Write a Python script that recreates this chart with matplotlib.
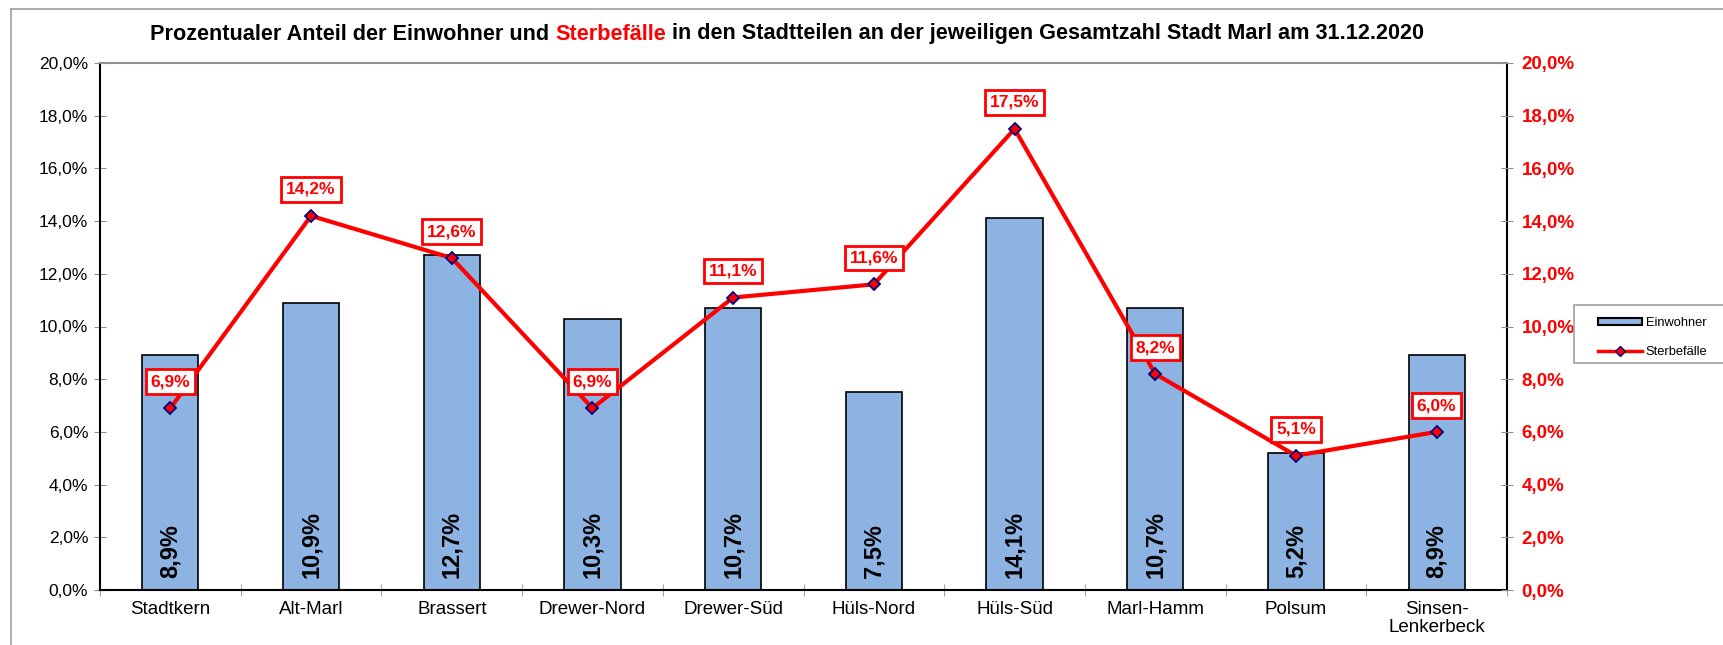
import matplotlib
matplotlib.use("Agg")
import matplotlib.pyplot as plt
from matplotlib.lines import Line2D
from matplotlib.patches import Patch, Rectangle
import numpy as np

plt.rcParams['font.family'] = ['Liberation Sans', 'DejaVu Sans']

categories = ["Stadtkern", "Alt-Marl", "Brassert", "Drewer-Nord", "Drewer-Süd",
              "Hüls-Nord", "Hüls-Süd", "Marl-Hamm", "Polsum", "Sinsen-\nLenkerbeck"]
einwohner = [8.9, 10.9, 12.7, 10.3, 10.7, 7.5, 14.1, 10.7, 5.2, 8.9]
sterbefaelle = [6.9, 14.2, 12.6, 6.9, 11.1, 11.6, 17.5, 8.2, 5.1, 6.0]
yticks = [0, 2, 4, 6, 8, 10, 12, 14, 16, 18, 20]

def pct(v):
    return f"{v:.1f}%".replace(".", ",")

W, H = 1723, 645
fig = plt.figure(figsize=(W / 100, H / 100), dpi=100)

# figure frame (grey, top and left)
fig.add_artist(Line2D([11 / W, 1.0], [1 - 9 / H, 1 - 9 / H], color="#a0a0a0", lw=1.2, transform=fig.transFigure))
fig.add_artist(Line2D([11 / W, 11 / W], [0, 1 - 9 / H], color="#a0a0a0", lw=1.2, transform=fig.transFigure))

ax = fig.add_axes([100 / W, 1 - 590 / H, (1507 - 100) / W, (590 - 63) / H])
x = np.arange(len(categories))
ax.bar(x, einwohner, width=0.4, color="#8DB3E2", edgecolor="black", linewidth=1.2, zorder=2)
ax.set_xlim(-0.5, len(categories) - 0.5)
ax.set_ylim(0, 20)
ax.set_yticks(yticks)
ax.set_yticklabels([pct(v) for v in yticks], fontsize=12.5)
ax.tick_params(axis="y", direction="inout", length=9, color="#909090", pad=4)
ax.set_xticks(x)
ax.set_xticklabels(categories, fontsize=13.5, linespacing=1.05)
ax.tick_params(axis="x", which="major", length=0, pad=8)
ax.set_xticks(np.arange(len(categories) + 1) - 0.5, minor=True)
ax.tick_params(axis="x", which="minor", direction="inout", length=9, color="#909090")
for s in ["left", "right", "bottom"]:
    ax.spines[s].set_color("black")
    ax.spines[s].set_linewidth(1.5)
ax.spines["top"].set_color("#909090")
ax.spines["top"].set_linewidth(1.5)

for xi, v in zip(x, einwohner):
    ax.annotate(pct(v), (xi, 0), xytext=(0, 9), textcoords="offset points",
                ha="center", va="bottom", rotation=90, fontsize=17, fontweight="bold", zorder=3)

ax2 = ax.twinx()
ax2.set_ylim(0, 20)
ax2.set_yticks(yticks)
ax2.set_yticklabels([pct(v) for v in yticks], fontsize=13.5, fontweight="bold", color="#ff0000")
ax2.tick_params(axis="y", direction="inout", length=9, color="#909090", pad=6)
for s in ["left", "right", "bottom", "top"]:
    ax2.spines[s].set_visible(False)

ax2.plot(x, sterbefaelle, color="#ff0000", lw=3, marker="D", markersize=6.5,
         markerfacecolor="#ff0000", markeredgecolor="#000080", markeredgewidth=1.3, zorder=4)
for xi, v in zip(x, sterbefaelle):
    ax2.annotate(pct(v), (xi, v), xytext=(0, 19), textcoords="offset points",
                 ha="center", va="center", fontsize=12.5, fontweight="bold", color="#ff0000",
                 bbox=dict(boxstyle="square,pad=0.28", fc="white", ec="#ff0000", lw=2), zorder=5)

# title with coloured word
TY = 1 - 34 / H
TS = 15.6
t1 = fig.text(150 / W, TY, "Prozentualer Anteil der Einwohner und ", fontsize=TS,
              fontweight="bold", ha="left", va="center")
t2 = fig.text(0, TY, "Sterbefälle", fontsize=TS, fontweight="bold", color="#ff0000", va="center")
t3 = fig.text(0, TY, " in den Stadtteilen an der jeweiligen Gesamtzahl Stadt Marl am 31.12.2020",
              fontsize=TS, fontweight="bold", va="center")
fig.canvas.draw()
r = fig.canvas.get_renderer()
bb1 = t1.get_window_extent(r)
t2.set_position((bb1.x1 / W, TY))
fig.canvas.draw()
bb2 = t2.get_window_extent(r)
t3.set_position((bb2.x1 / W, TY))

# legend: frame drawn separately, content via legend
fig.add_artist(Rectangle((1574 / W, 1 - 363 / H), 1.0 - 1574 / W + 0.01, (363 - 305) / H,
                         transform=fig.transFigure, fc="white", ec="#a0a0a0", lw=1.2))
handles = [Patch(facecolor="#8DB3E2", edgecolor="black", linewidth=1.5),
           Line2D([], [], color="#ff0000", lw=2.5, marker="D", markersize=5,
                  markerfacecolor="#ff0000", markeredgecolor="#000080")]
leg = fig.legend(handles, ["Einwohner", "Sterbefälle"], loc="center left",
                 bbox_to_anchor=(1598 / W, 1 - 337.5 / H), fontsize=9.3, frameon=False,
                 handlelength=3.4, handleheight=0.5, labelspacing=1.35, borderpad=0,
                 handletextpad=0.3, borderaxespad=0)

fig.savefig("out.png", dpi=100)
